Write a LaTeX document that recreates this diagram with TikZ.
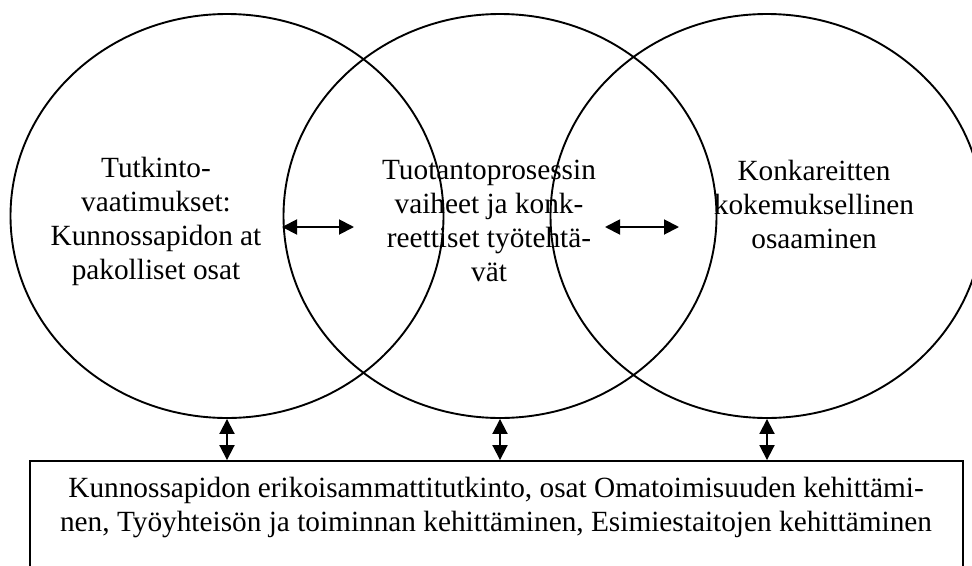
\documentclass[tikz,border=0pt]{standalone}
\usepackage{fontspec}
\setmainfont{Liberation Serif}
\usetikzlibrary{shapes.geometric,arrows.meta}
\begin{document}
\begin{tikzpicture}[x=1pt,y=-1pt,
  ring/.style={draw,ellipse,line width=1.9pt,minimum width=433pt,minimum height=404pt,inner sep=0pt},
  label/.style={font=\fontsize{29.3}{34}\selectfont,align=center,inner sep=0pt},
  link/.style={line width=1.9pt,{Triangle[length=15pt,width=15pt]}-{Triangle[length=15pt,width=15pt]}},
  frame/.style={draw,line width=1.9pt,minimum width=933pt,minimum height=140pt,inner sep=0pt}]
\useasboundingbox (0,0) rectangle (972,565);
\clip (0,0) rectangle (972,565);

% three overlapping areas
\node[ring] (c1) at (227,216) {};
\node[ring] (c2) at (500,216) {};
\node[ring] (c3) at (767,216) {};

% texts inside the areas
\node[label] (t1) at (156,221) {Tutkinto-\\vaatimukset:\\Kunnossapidon at\\pakolliset osat};
\node[label] (t2) at (489,221) {Tuotantoprosessin\\vaiheet ja konk-\\reettiset työtehtä-\\vät};
\node[label] (t3) at (814,204) {Konkareitten\\kokemuksellinen\\osaaminen};

% the degree box below
\node[frame] (box) at (496.5,531) {};
\node[label] (bt) at (496,507) {Kunnossapidon erikoisammattitutkinto, osat Omatoimisuuden kehittämi-\\nen, Työyhteisön ja toiminnan kehittäminen, Esimiestaitojen kehittäminen};

% horizontal links between the areas
\coordinate (h1a) at (282,227);
\coordinate (h1b) at (354,227);
\coordinate (h2a) at (605,227);
\coordinate (h2b) at (679,227);
\draw[link] (h1a) -- (h1b);
\draw[link] (h2a) -- (h2b);

% vertical links to the box
\draw[link] (c1.south) -- (c1.south |- box.north);
\draw[link] (c2.south) -- (c2.south |- box.north);
\draw[link] (c3.south) -- (c3.south |- box.north);
\end{tikzpicture}
\end{document}
